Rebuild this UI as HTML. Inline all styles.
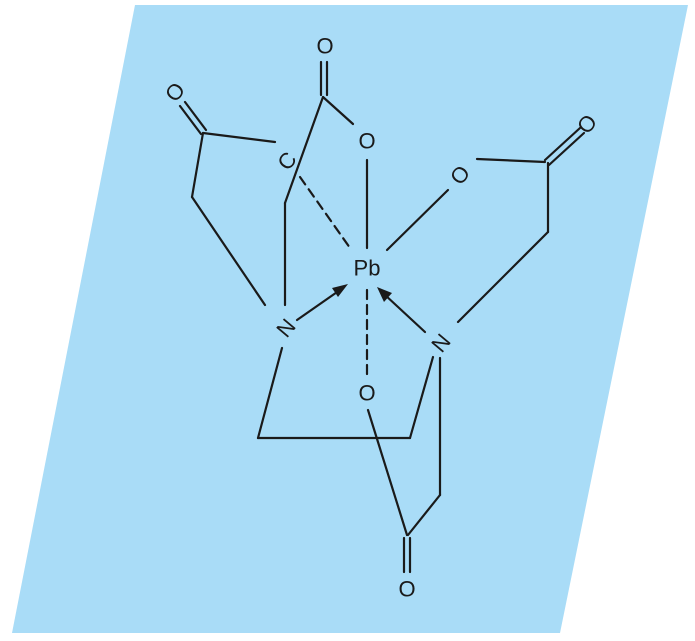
<!DOCTYPE html>
<html><head><meta charset="utf-8"><style>
html,body{margin:0;padding:0;background:#fff;}
svg{display:block;}
text{font-family:"Liberation Sans",sans-serif;font-size:22px;fill:#1a1a1a;text-anchor:middle;dominant-baseline:central;}
</style></head><body>
<svg width="695" height="641" viewBox="0 0 695 641">
<polygon points="135,5 688,5 560,633 12,633" fill="#a9dcf7"/>
<g stroke="#1a1a1a" stroke-width="2.2" fill="none" stroke-linecap="round">
<!-- top carboxylate -->
<line x1="321" y1="62" x2="321" y2="95"/><line x1="327" y1="62" x2="327" y2="95"/>
<line x1="323" y1="97" x2="353" y2="124"/>
<line x1="323" y1="97" x2="285" y2="203"/>
<line x1="285" y1="203" x2="285" y2="305"/>
<line x1="367" y1="160" x2="367" y2="248"/>
<!-- left carboxylate -->
<line x1="180" y1="106" x2="201" y2="134"/><line x1="185" y1="102" x2="206" y2="130"/>
<line x1="203" y1="133" x2="275" y2="142"/>
<line x1="203" y1="133" x2="192" y2="197"/>
<line x1="192" y1="197" x2="265" y2="305"/>
<line x1="300" y1="177" x2="350" y2="248" stroke-dasharray="9,6"/>
<!-- right carboxylate -->
<line x1="387" y1="250" x2="448" y2="190"/>
<line x1="477" y1="159" x2="545" y2="162"/>
<line x1="545" y1="160" x2="580" y2="128"/><line x1="549" y1="165" x2="584" y2="133"/>
<line x1="548" y1="163" x2="548" y2="232"/>
<line x1="548" y1="232" x2="458" y2="322"/>
<!-- ethylene bridge -->
<line x1="282" y1="348" x2="258" y2="438"/>
<line x1="258" y1="438" x2="410" y2="438"/>
<line x1="410" y1="438" x2="433" y2="357"/>
<!-- bottom carboxylate -->
<line x1="440" y1="358" x2="440" y2="495"/>
<line x1="440" y1="495" x2="408" y2="535"/>
<line x1="368" y1="410" x2="407" y2="535"/>
<line x1="404" y1="538" x2="404" y2="572"/><line x1="410" y1="538" x2="410" y2="572"/>
<line x1="367" y1="290" x2="367" y2="375" stroke-dasharray="9,6"/>
<!-- coordinate arrows -->
<line x1="297" y1="320" x2="340" y2="290"/>
<line x1="425" y1="332" x2="384" y2="294"/>
</g>
<polygon points="348,284 332,288 338,297" fill="#1a1a1a"/>
<polygon points="377,287 384,302 392,293" fill="#1a1a1a"/>
<g>
<text x="325" y="46">O</text>
<text x="367" y="141">O</text>
<text x="175" y="92" transform="rotate(-50 175 92)">O</text>
<text x="287" y="161" transform="rotate(-50 287 161)">C</text>
<text x="367" y="268">Pb</text>
<text x="286" y="328" transform="rotate(-50 286 328)">N</text>
<text x="441" y="343" transform="rotate(-50 441 343)">N</text>
<text x="460" y="175" transform="rotate(-50 460 175)">O</text>
<text x="587" y="124" transform="rotate(-50 587 124)">O</text>
<text x="367" y="393">O</text>
<text x="407" y="589">O</text>
</g>
</svg>
</body></html>
